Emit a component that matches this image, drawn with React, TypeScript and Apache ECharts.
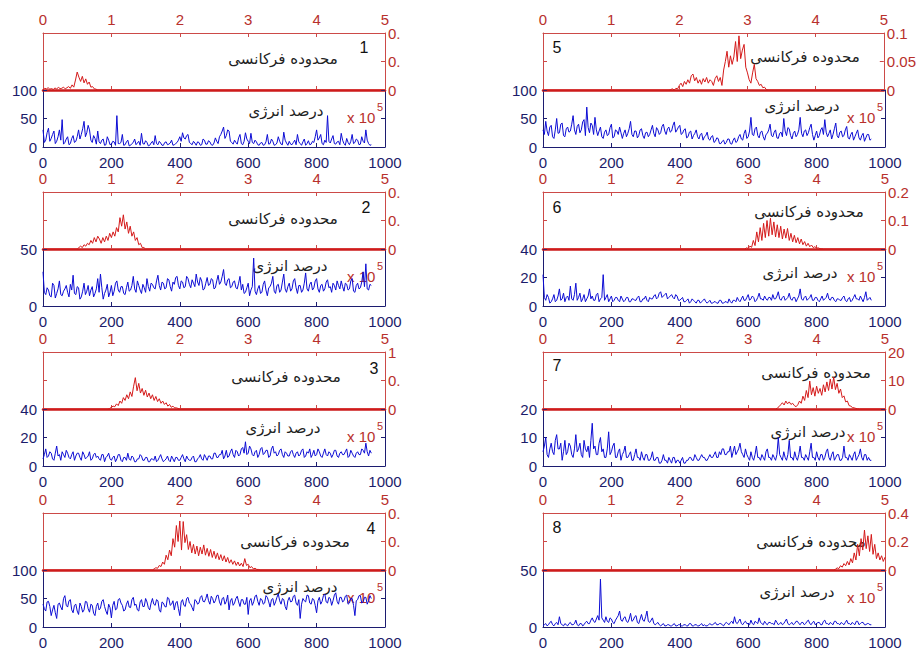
import React, { useEffect, useRef } from "react";
import * as echarts from "echarts";

// ---------- data ----------
const BLUE_STEP = 4; // sample spacing of the blue signals (x axis 0..1000)
const RED_STEP = 0.025; // sample spacing of the red spectra (x axis 0..5, x10^5)

const blueTicks = [0, 200, 400, 600, 800, 1000];
const redTicks = [0, 1, 2, 3, 4, 5];

const blue1 = [
  30, 8, 12, 25, 33, 10, 15, 22, 28, 6, 10, 18, 30, 12, 48, 5, 8, 14, 18, 4,
  6, 15, 20, 8, 10, 18, 30, 14, 22, 32, 45, 18, 25, 38, 30, 12, 8, 20, 15, 5,
  28, 9, 6, 12, 14, 3, 4, 18, 12, 4, 5, 10, 9, 3, 55, 6, 6, 8, 22, 3,
  4, 9, 12, 2, 3, 6, 8, 14, 4, 7, 10, 3, 24, 6, 5, 11, 8, 2, 3, 7,
  10, 4, 20, 6, 4, 10, 7, 3, 3, 8, 9, 4, 5, 7, 12, 3, 4, 6, 8, 12,
  18, 10, 25, 16, 14, 20, 22, 8, 6, 4, 10, 7, 3, 9, 8, 3, 4, 14, 12, 5,
  5, 11, 9, 4, 3, 7, 16, 10, 6, 18, 22, 28, 35, 15, 20, 30, 28, 10, 8, 5,
  12, 8, 5, 16, 22, 6, 4, 10, 25, 14, 10, 6, 24, 8, 6, 12, 9, 4, 3, 7,
  8, 3, 4, 9, 22, 5, 6, 14, 10, 3, 4, 7, 18, 10, 5, 4, 26, 12, 7, 3,
  10, 5, 4, 8, 12, 4, 22, 9, 6, 3, 9, 14, 3, 6, 11, 4, 5, 10, 8, 18,
  30, 12, 16, 22, 6, 4, 12, 8, 55, 10, 7, 14, 20, 6, 5, 9, 10, 4, 24, 12,
  6, 3, 15, 8, 4, 10, 22, 6, 8, 14, 12, 4, 5, 18, 10, 7, 30, 12, 6, 3,
  4,
];
const blue2 = [
  30, 12, 10, 16, 14, 9, 8, 20, 18, 7, 11, 15, 22, 10, 9, 13, 15, 18, 12, 8,
  19, 14, 27, 11, 10, 17, 16, 6, 8, 13, 20, 10, 13, 18, 9, 14, 17, 8, 11, 15,
  24, 12, 28, 16, 6, 11, 14, 19, 8, 12, 18, 9, 13, 20, 22, 14, 12, 17, 17, 11,
  10, 16, 21, 13, 14, 18, 26, 15, 12, 22, 18, 14, 11, 19, 16, 12, 24, 17, 13, 20,
  19, 16, 15, 22, 27, 18, 14, 21, 20, 15, 16, 24, 23, 17, 13, 21, 19, 25, 26, 18,
  15, 22, 21, 16, 17, 26, 24, 19, 16, 23, 20, 17, 28, 21, 18, 25, 22, 14, 15, 20,
  25, 18, 19, 24, 23, 15, 16, 22, 27, 19, 21, 26, 32, 20, 18, 23, 24, 16, 17, 21,
  22, 16, 15, 20, 26, 14, 19, 11, 12, 16, 20, 9, 14, 17, 42, 13, 10, 15, 18, 11,
  12, 19, 22, 14, 9, 16, 17, 20, 26, 13, 11, 18, 19, 12, 14, 21, 28, 15, 12, 17,
  20, 13, 15, 22, 24, 16, 11, 18, 18, 12, 14, 20, 29, 15, 13, 19, 21, 14, 16, 22,
  24, 15, 12, 18, 19, 13, 15, 21, 23, 16, 17, 12, 20, 18, 14, 22, 18, 15, 22, 17,
  13, 20, 19, 14, 15, 22, 24, 13, 12, 18, 20, 15, 16, 21, 30, 17, 37, 15, 14, 19,
  18,
];
const blue3 = [
  5, 8, 12, 6, 7, 10, 9, 5, 4, 9, 14, 7, 8, 4, 10, 8, 6, 11, 9, 6,
  5, 8, 10, 4, 7, 9, 9, 6, 4, 10, 8, 5, 6, 7, 10, 4, 5, 8, 9, 6,
  7, 5, 4, 8, 8, 3, 6, 7, 9, 5, 4, 6, 7, 3, 5, 8, 8, 4, 3, 6,
  6, 4, 9, 5, 4, 7, 6, 3, 3, 5, 5, 8, 7, 4, 4, 6, 6, 3, 3, 5,
  5, 4, 7, 3, 4, 6, 8, 5, 3, 4, 5, 7, 4, 3, 7, 5, 3, 6, 6, 4,
  4, 6, 8, 5, 3, 7, 5, 4, 4, 6, 7, 3, 3, 5, 6, 8, 5, 4, 8, 6,
  4, 7, 7, 5, 5, 9, 9, 6, 6, 8, 8, 11, 5, 7, 11, 6, 7, 10, 12, 8,
  6, 11, 10, 7, 8, 12, 13, 9, 17, 8, 9, 14, 12, 8, 7, 10, 11, 6, 8, 12,
  13, 8, 9, 11, 11, 6, 7, 12, 14, 9, 10, 7, 8, 11, 12, 8, 6, 10, 9, 7,
  7, 10, 11, 8, 6, 9, 10, 7, 8, 11, 12, 6, 7, 10, 9, 12, 6, 8, 11, 7,
  8, 12, 10, 7, 6, 9, 12, 8, 7, 10, 9, 6, 8, 11, 11, 7, 6, 9, 10, 8,
  8, 10, 12, 6, 7, 11, 9, 7, 6, 9, 10, 8, 8, 12, 11, 9, 16, 10, 7, 11,
  9,
];
const blue4 = [
  40, 32, 28, 44, 45, 36, 20, 30, 38, 25, 15, 40, 42, 35, 30, 50, 55, 38, 35, 46,
  48, 30, 25, 38, 40, 28, 22, 42, 36, 26, 30, 45, 44, 32, 26, 40, 38, 24, 20, 36,
  42, 30, 33, 45, 48, 36, 28, 22, 40, 34, 16, 38, 45, 30, 32, 48, 50, 42, 38, 28,
  30, 40, 46, 35, 34, 48, 52, 38, 40, 30, 28, 44, 48, 36, 36, 50, 44, 34, 30, 42,
  50, 40, 38, 48, 46, 30, 26, 44, 42, 36, 35, 52, 50, 38, 40, 46, 30, 42, 45, 32,
  20, 44, 48, 38, 36, 50, 52, 42, 40, 34, 28, 48, 46, 40, 42, 52, 55, 45, 44, 50,
  58, 46, 40, 54, 50, 42, 46, 55, 56, 44, 38, 50, 52, 40, 45, 56, 30, 46, 50, 38,
  42, 50, 54, 44, 36, 48, 48, 40, 40, 52, 22, 46, 50, 38, 44, 54, 56, 45, 38, 50,
  48, 40, 42, 55, 52, 44, 35, 48, 50, 38, 44, 52, 58, 46, 40, 50, 48, 36, 30, 46,
  52, 44, 45, 54, 56, 42, 38, 48, 15, 40, 50, 46, 44, 56, 55, 42, 40, 50, 48, 38,
  25, 46, 52, 40, 45, 55, 58, 44, 42, 52, 50, 38, 46, 56, 60, 45, 40, 52, 52, 44,
  46, 54, 56, 40, 42, 50, 50, 38, 20, 46, 48, 55, 55, 42, 44, 52, 52, 40, 46, 55,
  50,
];
const blue5 = [
  30, 22, 45, 28, 20, 35, 38, 18, 15, 30, 50, 24, 25, 40, 42, 20, 18, 32, 35, 26,
  28, 40, 55, 30, 22, 36, 40, 25, 30, 44, 48, 20, 70, 34, 25, 42, 38, 22, 52, 30,
  20, 28, 35, 18, 15, 26, 30, 20, 22, 34, 40, 16, 18, 30, 28, 22, 35, 25, 15, 24,
  30, 18, 24, 32, 45, 22, 18, 28, 28, 16, 20, 30, 32, 20, 15, 25, 26, 18, 22, 30,
  38, 24, 18, 34, 30, 22, 25, 36, 40, 28, 22, 32, 35, 26, 28, 38, 44, 26, 30, 35,
  38, 22, 24, 30, 32, 16, 18, 26, 28, 14, 20, 24, 30, 18, 14, 22, 24, 12, 18, 20,
  26, 14, 12, 18, 20, 8, 10, 16, 15, 6, 6, 10, 12, 5, 8, 14, 14, 6, 5, 12,
  16, 8, 10, 18, 22, 14, 12, 24, 30, 15, 18, 28, 52, 22, 20, 32, 35, 20, 16, 26,
  28, 18, 12, 22, 24, 30, 40, 20, 18, 26, 30, 16, 15, 24, 26, 18, 50, 28, 20, 34,
  32, 20, 14, 24, 28, 18, 22, 30, 52, 24, 18, 28, 30, 20, 25, 34, 40, 22, 12, 20,
  28, 16, 20, 30, 34, 22, 48, 26, 18, 24, 30, 14, 22, 32, 42, 20, 16, 26, 28, 18,
  20, 30, 36, 16, 14, 22, 26, 12, 18, 24, 30, 16, 12, 20, 24, 10, 16, 22, 22, 12,
  14,
];
const blue6 = [
  22, 6, 4, 8, 6, 2, 3, 5, 8, 3, 4, 7, 12, 4, 5, 9, 3, 6, 7, 4,
  14, 5, 4, 8, 16, 4, 6, 9, 3, 5, 8, 3, 5, 7, 12, 5, 7, 4, 4, 8,
  9, 3, 5, 6, 22, 4, 6, 8, 3, 5, 7, 3, 4, 6, 6, 4, 3, 7, 5, 3,
  4, 6, 6, 3, 3, 5, 5, 4, 4, 6, 7, 3, 3, 5, 5, 7, 4, 3, 6, 5,
  5, 7, 8, 5, 6, 9, 10, 6, 7, 8, 9, 5, 6, 7, 8, 6, 5, 8, 7, 4,
  4, 5, 6, 3, 3, 4, 5, 2, 3, 5, 4, 3, 2, 4, 4, 2, 3, 4, 5, 3,
  2, 3, 4, 2, 2, 3, 3, 2, 2, 4, 4, 2, 2, 3, 3, 2, 5, 3, 2, 4,
  4, 3, 6, 4, 3, 5, 7, 4, 4, 6, 8, 4, 5, 7, 6, 3, 4, 6, 9, 5,
  5, 4, 7, 5, 4, 6, 6, 4, 8, 5, 5, 7, 10, 5, 4, 6, 7, 4, 5, 6,
  9, 5, 4, 6, 6, 3, 5, 7, 12, 5, 4, 6, 7, 4, 5, 6, 8, 4, 4, 6,
  6, 4, 3, 5, 7, 4, 5, 6, 9, 5, 4, 6, 6, 4, 3, 5, 5, 4, 4, 6,
  7, 4, 3, 5, 6, 3, 4, 6, 8, 5, 5, 4, 7, 5, 3, 6, 10, 4, 5, 6,
  4,
];
const blue7 = [
  5, 7, 10, 4, 3, 6, 8, 5, 4, 9, 11, 6, 6, 8, 2, 5, 9, 4, 5, 8,
  7, 4, 3, 6, 11, 5, 6, 8, 4, 3, 9, 6, 5, 7, 3, 9, 15, 6, 7, 4,
  4, 8, 10, 5, 6, 3, 3, 6, 12, 4, 5, 7, 8, 3, 3, 5, 6, 2, 4, 5,
  7, 3, 3, 4, 5, 2, 2, 4, 6, 3, 3, 2, 5, 3, 2, 4, 4, 2, 2, 3,
  5, 2, 2, 3, 3, 1, 1, 2, 4, 2, 2, 1, 3, 2, 1, 3, 3, 1, 2, 2,
  1, 2, 3, 1, 1, 2, 2, 3, 3, 2, 2, 4, 3, 2, 2, 3, 4, 3, 3, 2,
  2, 3, 4, 3, 3, 4, 5, 3, 3, 5, 4, 6, 6, 4, 4, 5, 5, 7, 3, 5,
  7, 4, 5, 6, 8, 5, 4, 3, 6, 4, 3, 2, 5, 3, 2, 4, 7, 3, 3, 2,
  4, 3, 2, 5, 6, 3, 3, 2, 4, 3, 2, 4, 10, 4, 3, 2, 5, 3, 2, 4,
  9, 3, 3, 2, 5, 3, 2, 4, 7, 3, 3, 2, 4, 3, 2, 5, 8, 3, 3, 2,
  5, 3, 2, 4, 4, 2, 3, 5, 6, 3, 2, 4, 5, 2, 3, 4, 4, 2, 2, 3,
  7, 3, 3, 2, 4, 3, 2, 4, 5, 2, 3, 4, 6, 3, 2, 4, 4, 2, 3, 2,
  2,
];
const blue8 = [
  1, 2, 3, 1, 2, 4, 5, 2, 1, 3, 4, 2, 9, 3, 2, 1, 3, 2, 1, 3,
  4, 2, 2, 3, 6, 2, 1, 3, 3, 1, 2, 4, 5, 3, 3, 6, 8, 5, 4, 7,
  10, 6, 42, 8, 6, 4, 9, 5, 4, 8, 7, 4, 3, 6, 8, 10, 14, 6, 5, 8,
  9, 5, 4, 7, 12, 5, 6, 9, 10, 4, 3, 7, 11, 6, 5, 9, 14, 5, 4, 6,
  8, 3, 2, 3, 4, 2, 1, 2, 3, 1, 1, 2, 2, 1, 1, 2, 3, 1, 1, 2,
  2, 1, 1, 2, 2, 1, 1, 3, 3, 1, 1, 2, 2, 1, 1, 2, 3, 1, 2, 1,
  1, 2, 3, 2, 2, 3, 4, 2, 2, 3, 3, 2, 1, 3, 4, 3, 2, 4, 5, 3,
  9, 4, 3, 5, 7, 3, 2, 4, 5, 3, 3, 2, 6, 3, 2, 5, 4, 3, 8, 4,
  3, 2, 5, 3, 2, 4, 4, 3, 3, 2, 6, 4, 2, 3, 4, 2, 3, 5, 7, 3,
  2, 3, 4, 2, 3, 5, 5, 3, 2, 4, 4, 2, 3, 5, 6, 3, 2, 4, 5, 2,
  3, 4, 4, 2, 2, 5, 6, 3, 3, 2, 4, 3, 2, 5, 5, 3, 3, 2, 4, 3,
  2, 4, 6, 3, 3, 2, 4, 3, 2, 5, 5, 2, 3, 4, 4, 2, 2, 3, 3, 2,
  2,
];

// red spectra: nonzero stretch, starting at redXStart (x10^5), zero elsewhere
const red1Start = 0;
const red1 = [
  0, 0.006, 0.004, 0.008, 0.003, 0.005, 0.002, 0.007, 0.004, 0.009,
  0.005, 0.006, 0.01, 0.004, 0.008, 0.012, 0.006, 0.018, 0.01, 0.035,
  0.063, 0.045, 0.03, 0.048, 0.025, 0.039, 0.02, 0.028, 0.01, 0.012,
  0.004, 0.003, 0,
];
const red2Start = 0.5;
const red2 = [
  0, 0.01, 0.02, 0.01, 0.03, 0.02, 0.04, 0.03, 0.06, 0.04,
  0.08, 0.05, 0.09, 0.07, 0.04, 0.08, 0.05, 0.09, 0.06, 0.11,
  0.08, 0.12, 0.09, 0.15, 0.12, 0.22, 0.16, 0.24, 0.14, 0.19,
  0.11, 0.16, 0.09, 0.12, 0.06, 0.08, 0.03, 0.04, 0.01, 0.01,
  0,
];
const red3Start = 0.95;
const red3 = [
  0, 0.01, 0.03, 0.05, 0.04, 0.09, 0.06, 0.14, 0.1, 0.2,
  0.15, 0.25, 0.18, 0.3, 0.22, 0.4, 0.55, 0.32, 0.45, 0.28,
  0.36, 0.24, 0.33, 0.21, 0.28, 0.18, 0.25, 0.15, 0.22, 0.13,
  0.18, 0.1, 0.14, 0.08, 0.11, 0.05, 0.08, 0.03, 0.05, 0.02,
  0.02, 0.01, 0,
];
const red4Start = 1.6;
const red4 = [
  0, 0.002, 0.004, 0.003, 0.008, 0.006, 0.014, 0.01, 0.026, 0.018,
  0.035, 0.025, 0.055, 0.04, 0.078, 0.05, 0.086, 0.035, 0.085, 0.048,
  0.062, 0.036, 0.05, 0.03, 0.045, 0.028, 0.042, 0.025, 0.04, 0.028,
  0.044, 0.026, 0.038, 0.024, 0.036, 0.022, 0.033, 0.02, 0.03, 0.018,
  0.027, 0.016, 0.025, 0.014, 0.022, 0.012, 0.018, 0.01, 0.016, 0.008,
  0.014, 0.007, 0.012, 0.006, 0.02, 0.008, 0.01, 0.004, 0.006, 0.002,
  0.003, 0.001, 0.001, 0, 0,
];
const red5Start = 1.85;
const red5 = [
  0, 0.001, 0.002, 0, 0.003, 0.002, 0.008, 0.012, 0.006, 0.015,
  0.01, 0.018, 0.012, 0.025, 0.028, 0.016, 0.022, 0.012, 0.018, 0.01,
  0.02, 0.014, 0.022, 0.012, 0.018, 0.015, 0.008, 0.02, 0.025, 0.015,
  0.022, 0.008, 0.035, 0.05, 0.068, 0.04, 0.06, 0.045, 0.058, 0.085,
  0.05, 0.095, 0.055, 0.07, 0.08, 0.04, 0.03, 0.018, 0.012, 0.03,
  0.045, 0.02, 0.015, 0.008, 0.01, 0.004, 0.005, 0.001, 0,
];
const red6Start = 2.95;
const red6 = [
  0, 0.004, 0.002, 0.01, 0.006, 0.03, 0.012, 0.06, 0.025, 0.075,
  0.03, 0.09, 0.04, 0.1, 0.045, 0.108, 0.05, 0.095, 0.042, 0.085,
  0.04, 0.08, 0.035, 0.07, 0.038, 0.072, 0.03, 0.055, 0.025, 0.048,
  0.022, 0.04, 0.018, 0.035, 0.015, 0.026, 0.01, 0.02, 0.008, 0.014,
  0.005, 0.008, 0.003, 0.004, 0.001, 0.001, 0,
];
const red7Start = 3.4;
const red7 = [
  0, 0.3, 0.8, 1.5, 2.2, 1.4, 2.8, 1.8, 2.5, 1.6,
  2.0, 1.2, 0.8, 1.5, 2.8, 2.0, 4.5, 3.0, 6.5, 4.0,
  9.8, 5.0, 7.5, 4.5, 8.0, 5.5, 7.2, 4.8, 8.5, 6.0,
  9.5, 6.5, 10.5, 7.0, 11.2, 6.8, 9.0, 5.5, 7.0, 4.0,
  4.6, 2.5, 2.8, 1.2, 1.0, 0.5, 0.4, 0.2, 0.1, 0,
  0,
];
const red8Start = 4.25;
const red8 = [
  0, 0.005, 0.015, 0.01, 0.03, 0.02, 0.045, 0.03, 0.06, 0.035,
  0.08, 0.05, 0.12, 0.07, 0.18, 0.1, 0.22, 0.14, 0.28, 0.15,
  0.24, 0.13, 0.25, 0.11, 0.18, 0.08, 0.12, 0.07, 0.1, 0.06,
  0.09,
];

// axis ranges (lower blue half / upper red half)
const blueMax = [100, 50, 40, 100, 100, 40, 20, 50];
const blueInterval = [50, 50, 20, 50, 50, 20, 10, 50];
const redMax = [0.2, 0.4, 1, 0.1, 0.1, 0.2, 20, 0.4];
const panelNames = ["1", "2", "3", "4", "5", "6", "7", "8"];
const topLabel = "محدوده فرکانسی";
const bottomLabel = "درصد انرژی";

const blueData = [blue1, blue2, blue3, blue4, blue5, blue6, blue7, blue8];
const redData = [red1, red2, red3, red4, red5, red6, red7, red8];
const redStarts = [red1Start, red2Start, red3Start, red4Start, red5Start, red6Start, red7Start, red8Start];

// ---------- layout / style ----------
const COL_LEFT = [43, 543];
const ROW_TOP = [33, 192, 352, 513];
const W = 342;
const HU = 57;
const HL = 57;

// per panel annotation offsets relative to panel box (x from box left, y from box top)
const LAYOUT = [
  { num: [321, 14], top: [240, 26], bot: [243, 78] },
  { num: [323, 15], top: [240, 27], bot: [247, 74] },
  { num: [331, 16], top: [243, 25], bot: [240, 76] },
  { num: [328, 15], top: [252, 29], bot: [257, 74] },
  { num: [14, 14], top: [262, 24], bot: [259, 73] },
  { num: [14, 15], top: [266, 20], bot: [257, 81] },
  { num: [14, 13], top: [273, 21], bot: [265, 80] },
  { num: [14, 14], top: [268, 29], bot: [254, 79] },
];

const RED_TXT = "#b8302c";
const RED_AX = "#cc4a48";
const RED_BASE = "#cc1c1c";
const RED_DATA = "#d41a1a";
const NAVY_TXT = "#1c1c6a";
const NAVY_AX = "#1c1c70";
const BLUE_DATA = "#0c0cd4";
const FONT = "Liberation Sans, Arial, sans-serif";
const FA_FONT = "DejaVu Sans, sans-serif";

function buildOption() {
  const grid: any[] = [];
  const xAxis: any[] = [];
  const yAxis: any[] = [];
  const series: any[] = [];
  const graphic: any[] = [];

  for (let k = 0; k < 8; k++) {
    const col = k < 4 ? 0 : 1;
    const row = k % 4;
    const left = COL_LEFT[col];
    const top = ROW_TOP[row];
    const gU = 2 * k;
    const gL = 2 * k + 1;
    grid.push({ left, top, width: W, height: HU, containLabel: false });
    grid.push({ left, top: top + HU, width: W, height: HL, containLabel: false });

    const truncate = col === 0;
    const tick = (color: string) => ({ show: true, inside: true, length: 4, lineStyle: { color, width: 1 } });
    const plain = (v: number) => String(Math.round(v * 1000) / 1000);

    // x axes
    xAxis.push({
      gridIndex: gU, type: "value", position: "top",
      min: redTicks[0], max: redTicks[redTicks.length - 1], interval: 1,
      axisLine: { show: true, onZero: false, lineStyle: { color: RED_AX, width: 1 } },
      axisTick: tick(RED_AX),
      axisLabel: { color: RED_TXT, fontSize: 15, fontFamily: FONT, margin: 6, formatter: plain },
      splitLine: { show: false },
    });
    xAxis.push({
      gridIndex: gU, type: "value", position: "bottom",
      min: 0, max: 5, interval: 1,
      axisLine: { show: true, onZero: false, lineStyle: { color: RED_BASE, width: 2.5 } },
      axisTick: tick(RED_AX),
      axisLabel: { show: false },
      splitLine: { show: false },
    });
    xAxis.push({
      gridIndex: gL, type: "value", position: "bottom",
      min: blueTicks[0], max: blueTicks[blueTicks.length - 1], interval: 200,
      axisLine: { show: true, onZero: false, lineStyle: { color: NAVY_AX, width: 1 } },
      axisTick: tick(NAVY_AX),
      axisLabel: { color: NAVY_TXT, fontSize: 15, fontFamily: FONT, margin: 8, formatter: plain },
      splitLine: { show: false },
    });

    // y axes
    const rm = redMax[k];
    yAxis.push({
      gridIndex: gU, type: "value", position: "right",
      min: 0, max: rm, interval: rm / 2,
      axisLine: { show: true, onZero: false, lineStyle: { color: RED_AX, width: 1 } },
      axisTick: tick(RED_AX),
      axisLabel: {
        color: RED_TXT, fontSize: 15, fontFamily: FONT, margin: 3,
        formatter: (v: number) => (truncate ? plain(v).slice(0, 2) : plain(v)),
      },
      splitLine: { show: false },
    });
    yAxis.push({
      gridIndex: gU, type: "value", position: "left",
      min: 0, max: rm, interval: rm / 2,
      axisLine: { show: true, onZero: false, lineStyle: { color: RED_AX, width: 1 } },
      axisTick: tick(RED_AX),
      axisLabel: { show: false },
      splitLine: { show: false },
    });
    yAxis.push({
      gridIndex: gL, type: "value", position: "left",
      min: 0, max: blueMax[k], interval: blueInterval[k],
      axisLine: { show: true, onZero: false, lineStyle: { color: NAVY_AX, width: 1 } },
      axisTick: tick(NAVY_AX),
      axisLabel: { color: NAVY_TXT, fontSize: 15, fontFamily: FONT, margin: 6, formatter: plain },
      splitLine: { show: false },
    });
    yAxis.push({
      gridIndex: gL, type: "value", position: "right",
      min: 0, max: blueMax[k], interval: blueInterval[k],
      axisLine: { show: true, onZero: false, lineStyle: { color: NAVY_AX, width: 1 } },
      axisTick: tick(NAVY_AX),
      axisLabel: { show: false },
      splitLine: { show: false },
    });

    series.push({
      type: "line", xAxisIndex: 3 * k + 2, yAxisIndex: 4 * k + 2,
      data: blueData[k].map((v, i) => [i * BLUE_STEP, v]),
      showSymbol: false, symbol: "none", silent: true, z: 3,
      lineStyle: { color: BLUE_DATA, width: 1 },
    });
    const rs = redStarts[k];
    const seg = redData[k].map((v, i) => [rs + i * RED_STEP, v]);
    const rd: number[][] = [];
    if (rs > 0) rd.push([0, 0]);
    rd.push(...seg);
    const last = seg[seg.length - 1][0];
    if (last < 5) rd.push([5, 0]);
    series.push({
      type: "line", xAxisIndex: 3 * k, yAxisIndex: 4 * k,
      data: rd, showSymbol: false, symbol: "none", silent: true, z: 3,
      lineStyle: { color: RED_DATA, width: 1 },
    });

    // annotations
    const L = LAYOUT[k];
    graphic.push({
      type: "text", x: left + L.num[0], y: top + L.num[1], z: 1,
      style: { text: panelNames[k], fill: "#111", fontSize: 16, fontFamily: FONT, align: "center", verticalAlign: "middle" },
    });
    graphic.push({
      type: "text", x: left + L.top[0], y: top + L.top[1], z: 1,
      style: { text: topLabel, fill: "#222", fontSize: 15, fontFamily: FA_FONT, align: "center", verticalAlign: "middle" },
    });
    graphic.push({
      type: "text", x: left + L.bot[0], y: top + L.bot[1], z: 1,
      style: { text: bottomLabel, fill: "#222", fontSize: 15, fontFamily: FA_FONT, align: "center", verticalAlign: "middle" },
    });
    graphic.push({
      type: "text", x: left + 304, y: top + 84, z: 1,
      style: { text: "x 10", fill: RED_TXT, fontSize: 15, fontFamily: FONT, align: "left", verticalAlign: "middle" },
    });
    graphic.push({
      type: "text", x: left + 334, y: top + 74, z: 1,
      style: { text: "5", fill: RED_TXT, fontSize: 11, fontFamily: FONT, align: "left", verticalAlign: "middle" },
    });
  }

  return {
    animation: false,
    backgroundColor: "#ffffff",
    grid, xAxis, yAxis, series, graphic,
  };
}

export default function App() {
  const ref = useRef<HTMLDivElement>(null);
  useEffect(() => {
    if (!ref.current) return;
    const chart = echarts.init(ref.current, undefined, { renderer: "svg" });
    chart.setOption(buildOption() as any);
    return () => chart.dispose();
  }, []);
  return (
    <div
      ref={ref}
      style={{ position: "absolute", left: 0, top: 0, width: 919, height: 651, background: "#fff" }}
    />
  );
}
